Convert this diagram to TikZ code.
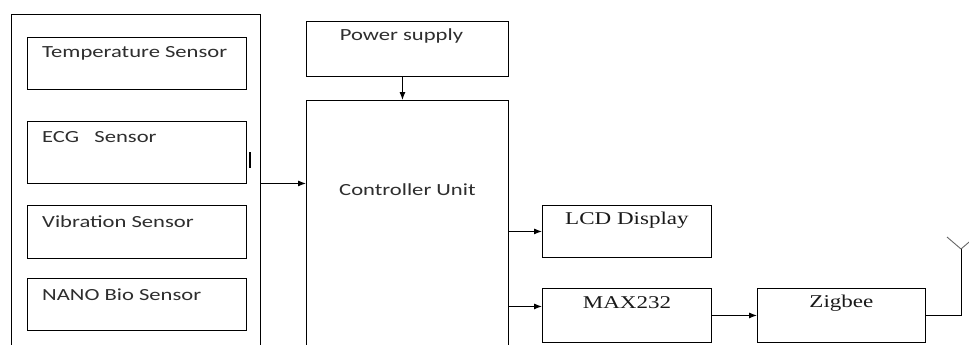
\documentclass[tikz,border=0pt]{standalone}
\usepackage{fontspec}
\newfontfamily\calib[FakeStretch=1.33]{Carlito}
\newfontfamily\tnr[FakeStretch=1.28]{Liberation Serif}
\usetikzlibrary{arrows.meta,positioning,calc}

\begin{document}
\begin{tikzpicture}[
  x=1pt, y=-1pt,
  box/.style={draw, line width=0.9pt, anchor=north west, inner sep=0pt},
  sbox/.style={box, minimum width=219pt, minimum height=52pt},
  obox/.style={box, minimum width=169pt, minimum height=53pt},
  slbl/.style={anchor=west, inner sep=0pt, font=\calib\fontsize{17}{19}\selectfont, text=black!82},
  tlbl/.style={anchor=center, inner sep=0pt, font=\tnr\fontsize{18}{20}\selectfont, text=black!90},
  arr/.style={-{Latex[length=8pt,width=6pt]}, line width=0.9pt},
  >=Latex
]
\clip (0,0) rectangle (969,345);
\fill[white] (0,0) rectangle (969,345);

% sensor block
\node[box, minimum width=249pt, minimum height=338pt] (frame) at (11,14) {};
\node[sbox] (temp) at (27,37) {};
\node[sbox, minimum height=62pt] (ecg) at (27,121) {};
\node[sbox, minimum height=53pt] (vib) at (27,205) {};
\node[sbox] (nano) at (27,278) {};
\node[slbl] at ($(temp.north west)+(15,16)$) {Temperature Sensor};
\node[slbl] at ($(ecg.north west)+(15,16)$) {ECG\ \ \ Sensor};
\node[slbl] at ($(vib.north west)+(15,17)$) {Vibration Sensor};
\node[slbl] at ($(nano.north west)+(15,17)$) {NANO Bio Sensor};
\draw[line width=2.2pt] (250,152) -- (250,168);

% controller and supply
\node[box, minimum width=202pt, minimum height=55pt] (power) at (306,21) {};
\node[slbl, anchor=center] at ($(power.north)+(-6,15)$) {Power supply};
\node[box, minimum width=202pt, minimum height=260pt] (ctrl) at (306,100) {};
\node[slbl, anchor=center] at ($(ctrl.north)+(0,90)$) {Controller Unit};

% outputs
\node[obox, minimum height=52pt] (lcd) at (542,205) {};
\node[tlbl] at ($(lcd.north)+(0,15)$) {LCD Display};
\node[obox, minimum height=54pt] (max) at (542,288) {};
\node[tlbl] at ($(max.north)+(0,15)$) {MAX232};
\node[obox, minimum width=168pt, minimum height=54pt] (zig) at (757,288) {};
\node[tlbl] at ($(zig.north)+(0,15)$) {Zigbee};
\coordinate (ant) at (961,249);

\draw[arr] (frame.east) -- (frame.east -| ctrl.west);
\draw[arr] ([xshift=-5pt]power.south) -- ([xshift=-5pt]ctrl.north);
\draw[arr] (ctrl.east |- lcd.west) -- (lcd.west);
\draw[arr] ($(ctrl.east |- max.west)+(0,-9)$) -- ($(max.west)+(0,-9)$);
\draw[arr] (max.east) -- (zig.west);
\draw[line width=0.9pt] (zig.east) -| (ant);
\draw[line width=0.9pt, black!60] (ant) -- ++(-14,-12) (ant) -- ++(14,-12);
\end{tikzpicture}
\end{document}
